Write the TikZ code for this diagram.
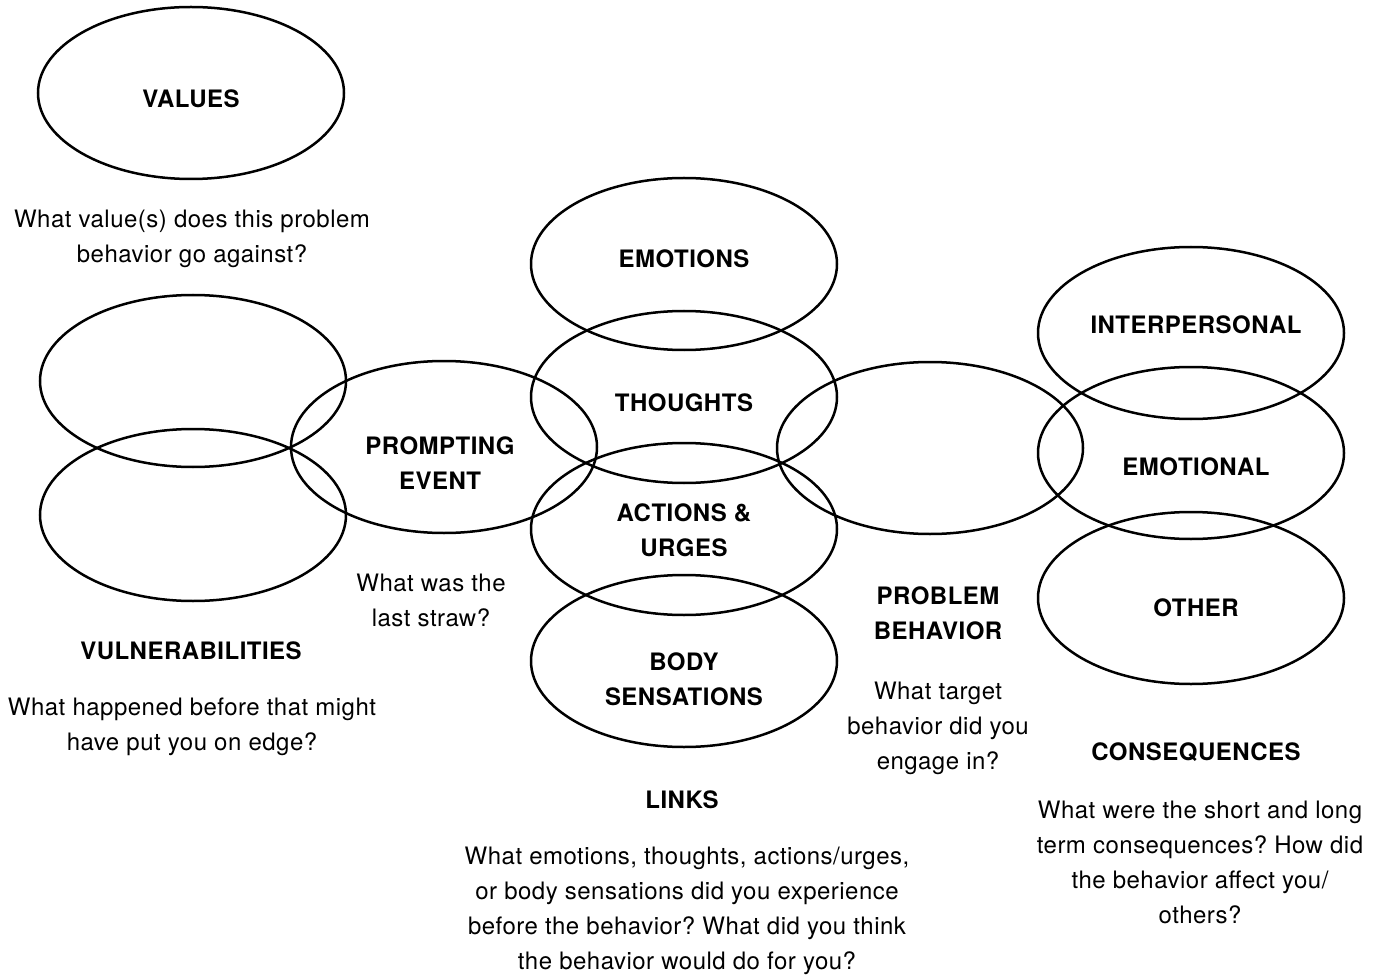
\documentclass[tikz,border=0pt]{standalone}
\usepackage{fontspec}
\setmainfont{TeX Gyre Heros}[LetterSpace=2.0]
\usetikzlibrary{shapes.geometric}
\begin{document}
\frenchspacing
\begin{tikzpicture}[x=1pt,y=-1pt,
  oval/.style={draw=black,line width=2.5pt,ellipse,minimum width=306pt,minimum height=172pt,inner sep=0pt},
  head/.style={font=\fontsize{24}{35}\selectfont\bfseries,align=center,inner sep=0pt},
  question/.style={font=\fontsize{24}{35}\selectfont,align=center,inner sep=0pt}]
\useasboundingbox (0,0) rectangle (1379,976);
% ellipses
\node[oval] (values) at (191,93) {};
\node[oval] (vulA) at (193,381) {};
\node[oval] (vulB) at (193,515) {};
\node[oval] (prompt) at (444,447) {};
\node[oval] (emo) at (684,264) {};
\node[oval] (tho) at (684,397) {};
\node[oval] (act) at (684,529) {};
\node[oval] (body) at (684,661) {};
\node[oval] (prob) at (930,448) {};
\node[oval] (inter) at (1191,333) {};
\node[oval] (emot) at (1191,453) {};
\node[oval] (other) at (1191,598) {};
% labels
\node[head] (tvalues) at (191,99) {VALUES};
\node[question] (qvalues) at (192,239) {What value(s) does this problem\\behavior go against?};
\node[head] (tprompt) at (440,463) {PROMPTING\\EVENT};
\node[question] (qprompt) at (431,600) {What was the\\last straw?};
\node[head] (temo) at (684,259) {EMOTIONS};
\node[head] (ttho) at (684,403) {THOUGHTS};
\node[head] (tact) at (684,530) {ACTIONS \&\\URGES};
\node[head] (tbody) at (684,679) {BODY\\SENSATIONS};
\node[head] (tvul) at (191,651) {VULNERABILITIES};
\node[question] (qvul) at (192,727) {What happened before that might\\have put you on edge?};
\node[head] (tprob) at (938,613) {PROBLEM\\BEHAVIOR};
\node[question] (qprob) at (938,728) {What target\\behavior did you\\engage in?};
\node[head] (tlinks) at (682,800) {LINKS};
\node[question] (qlinks) at (687,911) {What emotions, thoughts, actions/urges,\\or body sensations did you experience\\before the behavior? What did you think\\the behavior would do for you?};
\node[head] (tinter) at (1196,325) {INTERPERSONAL};
\node[head] (temot) at (1196,467) {EMOTIONAL};
\node[head] (tother) at (1196,608) {OTHER};
\node[head] (tcons) at (1196,752) {CONSEQUENCES};
\node[question] (qcons) at (1200,862) {What were the short and long\\term consequences? How did\\the behavior affect you/\\others?};
\end{tikzpicture}
\end{document}
